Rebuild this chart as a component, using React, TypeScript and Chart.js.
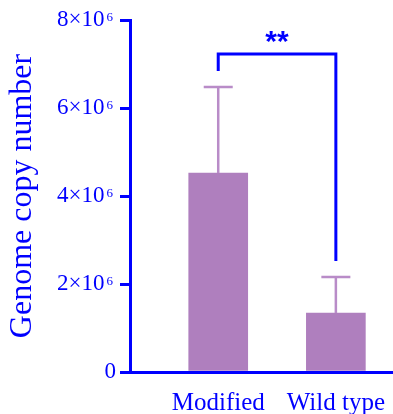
import React, { useEffect, useRef } from "react";
import { Chart, registerables } from "chart.js";

Chart.register(...registerables);

const categories = ["Modified", "Wild type"];
const means = [4.52e6, 1.34e6];
const errorsUp = [1.96e6, 0.82e6];
const yTickValues = [0, 2e6, 4e6, 6e6, 8e6];
const yTickMantissas = ["0", "2×10\u2002", "4×10\u2002", "6×10\u2002", "8×10\u2002"];
const yTickExponents = ["", "6", "6", "6", "6"];
const bracketLevel = 7.23e6;
const bracketLeftEnd = 6.84e6;
const bracketRightEnd = 2.52e6;
const significance = "**";

const BLUE = "#0000FF";
const BAR = "#AF7FBE";
const ERR = "#B98CC8";

const overlayPlugin = {
  id: "overlay",
  afterDatasetsDraw(chart: any) {
    const { ctx } = chart;
    const xs = chart.scales.x;
    const ys = chart.scales.y;
    ctx.save();
    ctx.strokeStyle = ERR;
    ctx.lineWidth = 2.5;
    means.forEach((m, i) => {
      const x = xs.getPixelForValue(i);
      const y0 = ys.getPixelForValue(m);
      const y1 = ys.getPixelForValue(m + errorsUp[i]);
      ctx.beginPath();
      ctx.moveTo(x, y0);
      ctx.lineTo(x, y1);
      ctx.moveTo(x - 14.5, y1);
      ctx.lineTo(x + 14.5, y1);
      ctx.stroke();
    });
    const xl = xs.getPixelForValue(0);
    const xr = xs.getPixelForValue(1);
    const yb = ys.getPixelForValue(bracketLevel);
    ctx.strokeStyle = BLUE;
    ctx.lineWidth = 3;
    ctx.beginPath();
    ctx.moveTo(xl, ys.getPixelForValue(bracketLeftEnd));
    ctx.lineTo(xl, yb);
    ctx.lineTo(xr, yb);
    ctx.lineTo(xr, ys.getPixelForValue(bracketRightEnd));
    ctx.stroke();
    ctx.fillStyle = BLUE;
    ctx.font = "bold 30px 'Liberation Sans'";
    ctx.textAlign = "center";
    ctx.textBaseline = "middle";
    ctx.fillText(significance, (xl + xr) / 2, yb - 11);
    ctx.restore();
  },
  afterDraw(chart: any) {
    const { ctx } = chart;
    const ys = chart.scales.y;
    ctx.save();
    ctx.fillStyle = BLUE;
    ctx.font = "13px 'Liberation Serif'";
    ctx.textAlign = "left";
    ctx.textBaseline = "alphabetic";
    yTickValues.forEach((v, i) => {
      if (!yTickExponents[i]) return;
      ctx.fillText(yTickExponents[i], ys.right - 23.5, ys.getPixelForValue(v) + 1);
    });
    ctx.restore();
  },
};

export default function App() {
  const ref = useRef<HTMLCanvasElement>(null);
  useEffect(() => {
    const chart = new Chart(ref.current as HTMLCanvasElement, {
      type: "bar",
      data: {
        datasets: [
          {
            data: means.map((m, i) => ({ x: i, y: m })),
            backgroundColor: BAR,
            borderWidth: 0,
            barThickness: 59,
          },
        ],
      },
      options: {
        animation: false,
        responsive: false,
        maintainAspectRatio: false,
        layout: { padding: { top: 20, left: 0, right: 0, bottom: 0 } },
        plugins: { legend: { display: false }, tooltip: { enabled: false } },
        scales: {
          x: {
            type: "linear",
            offset: false,
            min: -0.75,
            max: 1.48,
            grid: { display: false },
            border: { display: true, color: BLUE, width: 3 },
            afterBuildTicks: (s: any) => {
              s.ticks = categories.map((_, i) => ({ value: i }));
            },
            afterFit: (s: any) => {
              s.height = 42;
            },
            ticks: {
              autoSkip: false,
              maxRotation: 0,
              padding: 8,
              color: BLUE,
              font: { family: "'Liberation Serif'", size: 25 },
              callback: (v: any) => categories[v] ?? "",
            },
          },
          y: {
            min: 0,
            max: 8e6,
            afterBuildTicks: (s: any) => {
              s.ticks = yTickValues.map((v) => ({ value: v }));
            },
            afterFit: (s: any) => {
              s.width = 130;
              s.paddingTop = 0;
              s.paddingBottom = 0;
            },
            grid: {
              drawOnChartArea: false,
              color: BLUE,
              lineWidth: 3,
              tickLength: 10,
            },
            border: { display: true, color: BLUE, width: 3 },
            ticks: {
              padding: 4,
              color: BLUE,
              font: { family: "'Liberation Serif'", size: 23 },
              callback: (v: any) => {
                const i = yTickValues.indexOf(v);
                return i >= 0 ? yTickMantissas[i] : "";
              },
            },
            title: {
              display: true,
              text: "Genome copy number",
              color: BLUE,
              font: { family: "'Liberation Serif'", size: 32 },
              padding: { top: 3, bottom: 0 },
            },
          },
        },
      },
      plugins: [overlayPlugin],
    });
    return () => chart.destroy();
  }, []);
  return (
    <div style={{ position: "absolute", left: 0, top: 0, width: 393, height: 414, background: "#fff" }}>
      <canvas ref={ref} width={393} height={414} style={{ width: 393, height: 414, display: "block" }} />
    </div>
  );
}
